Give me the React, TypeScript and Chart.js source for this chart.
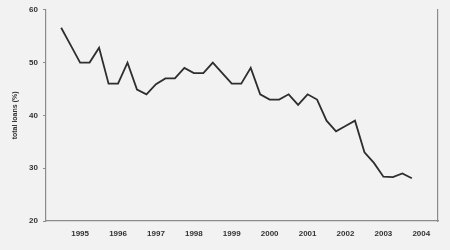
import React, { useEffect, useRef } from "react";
import { Chart, registerables } from "chart.js";

Chart.register(...registerables);

const quarters: string[] = [
  "1994Q3", "1994Q4",
  "1995Q1", "1995Q2", "1995Q3", "1995Q4",
  "1996Q1", "1996Q2", "1996Q3", "1996Q4",
  "1997Q1", "1997Q2", "1997Q3", "1997Q4",
  "1998Q1", "1998Q2", "1998Q3", "1998Q4",
  "1999Q1", "1999Q2", "1999Q3", "1999Q4",
  "2000Q1", "2000Q2", "2000Q3", "2000Q4",
  "2001Q1", "2001Q2", "2001Q3", "2001Q4",
  "2002Q1", "2002Q2", "2002Q3", "2002Q4",
  "2003Q1", "2003Q2", "2003Q3", "2003Q4",
];

const totalLoans: number[] = [
  56.6, 53.3,
  50, 50, 52.8, 46,
  46, 50, 44.9, 44,
  45.9, 47, 47, 49,
  48, 48, 50, 48,
  46, 46, 49, 44,
  43, 43, 44, 42,
  44, 43, 39, 37,
  38, 39, 33, 31,
  28.4, 28.3, 29, 28.1,
];

const yearTicks: number[] = [1995, 1996, 1997, 1998, 1999, 2000, 2001, 2002, 2003, 2004];
const yTicks: number[] = [20, 30, 40, 50, 60];

const toYear = (q: string) => parseInt(q.slice(0, 4), 10) + (parseInt(q.slice(5), 10) - 1) / 4;

export default function App() {
  const ref = useRef<HTMLCanvasElement | null>(null);

  useEffect(() => {
    if (!ref.current) return;
    const axisColor = "#8c8c8c";
    const textColor = "#333333";
    const chart = new Chart(ref.current, {
      type: "line",
      data: {
        datasets: [
          {
            data: quarters.map((q, i) => ({ x: toYear(q), y: totalLoans[i] })),
            borderColor: "#2e2e2e",
            borderWidth: 1.8,
            pointRadius: 0,
            tension: 0,
            fill: false,
          },
        ],
      },
      options: {
        animation: false,
        responsive: false,
        maintainAspectRatio: false,
        layout: { padding: { top: 7, right: 12, left: 0, bottom: 0 } },
        plugins: { legend: { display: false }, tooltip: { enabled: false } },
        scales: {
          x: {
            type: "linear",
            min: 1994.1,
            max: 2004.44,
            afterBuildTicks: (s: any) => {
              s.ticks = yearTicks.map((v) => ({ value: v }));
            },
            afterFit: (s: any) => {
              s.height = 29;
            },
            border: { display: true, color: axisColor, width: 1.2 },
            grid: { drawOnChartArea: false, drawTicks: false },
            ticks: {
              autoSkip: false,
              maxRotation: 0,
              padding: 7.5,
              color: textColor,
              font: { family: "Liberation Sans", size: 8, weight: "bold" },
              callback: (v: any) => String(v),
            },
          },
          y: {
            type: "linear",
            min: 20,
            max: 60,
            afterBuildTicks: (s: any) => {
              s.ticks = yTicks.map((v) => ({ value: v }));
            },
            afterFit: (s: any) => {
              s.width = 46;
            },
            border: { display: true, color: axisColor, width: 1.2 },
            grid: { drawOnChartArea: false, drawTicks: true, tickLength: 3, color: axisColor },
            ticks: {
              padding: 5,
              color: textColor,
              font: { family: "Liberation Sans", size: 8, weight: "bold" },
            },
            title: {
              display: true,
              text: "total loans (%)",
              color: textColor,
              font: { family: "Liberation Sans", size: 7, weight: "bold" },
              padding: { top: 11.3, bottom: 0 },
            },
          },
          y2: {
            type: "linear",
            position: "right",
            min: 20,
            max: 60,
            afterFit: (s: any) => {
              s.width = 0;
            },
            border: { display: true, color: axisColor, width: 1.2 },
            grid: { drawOnChartArea: false, drawTicks: false },
            ticks: { display: false },
          },
        },
      },
    });
    return () => chart.destroy();
  }, []);

  return (
    <div
      style={{
        position: "absolute",
        left: 0,
        top: 0,
        width: 450,
        height: 250,
        background: "#f1f2f1",
      }}
    >
      <canvas ref={ref} width={450} height={250} style={{ display: "block" }} />
    </div>
  );
}
